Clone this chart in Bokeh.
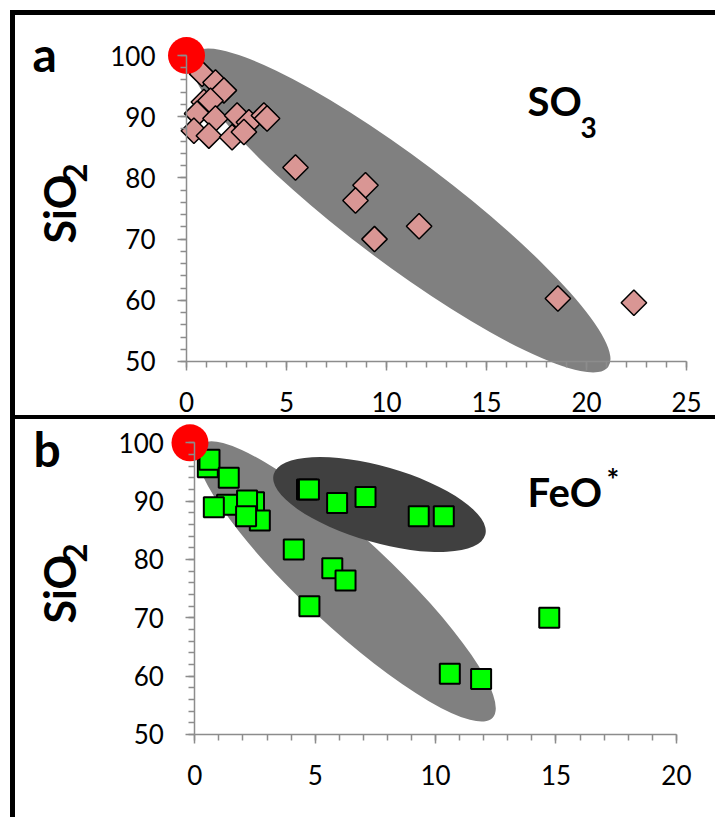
import math
from bokeh.plotting import figure
from bokeh.models import Label, SingleIntervalTicker, Spacer
from bokeh.layouts import column
from bokeh.embed import file_html
from bokeh.resources import INLINE

# ---------------- data ----------------
# Panel a: SO3 vs SiO2 (diamonds)
so3_x = [0.78, 1.45, 1.87, 0.87, 1.2, 0.53, 1.45, 0.37, 1.12, 2.28, 2.53, 3.12, 2.87,
         3.87, 4.03, 5.45, 8.95, 8.45, 9.4, 11.63, 18.57, 22.37]
so3_y = [97.0, 95.6, 94.3, 92.4, 92.6, 90.5, 89.7, 87.7, 86.9, 86.65, 90.2, 89.1, 87.5,
         90.2, 89.7, 81.7, 78.8, 76.3, 70.0, 72.1, 60.3, 59.6]
# Panel b: FeO* vs SiO2 (squares)
feo_x = [0.54, 0.61, 1.41, 1.34, 0.79, 2.46, 2.17, 2.70, 2.13, 4.11, 4.66, 4.74, 5.91,
         7.09, 9.30, 10.34, 5.71, 6.26, 4.76, 10.59, 11.89, 14.72]
feo_y = [95.8, 97.1, 94.0, 89.4, 88.96, 89.8, 90.1, 86.7, 87.4, 81.7, 92.0, 92.0, 89.7,
         90.7, 87.4, 87.4, 78.5, 76.4, 72.0, 60.4, 59.5, 70.0]
# pure silica end member
end_a_x, end_a_y = [0.0], [100.0]
end_b_x, end_b_y = [-0.2], [100.0]

# shaded fields: centre x, centre y, width, height (data units), angle (deg)
field_a = [10.7, 74.67, 26.0, 17.0, -37.0]
field_b_light = [6.30, 76.23, 16.6, 15.26, -43.0]
field_b_dark = [7.67, 89.42, 9.14, 13.03, -16.0]

x_bounds_a = (0, 25)
x_bounds_b = (0, 20)
y_bounds = (50, 100)

AXIS_GRAY = "#8C8C8C"
FONT = "Lato"


def style(p, xb, yb):
    p.xgrid.visible = False
    p.ygrid.visible = False
    p.outline_line_color = None
    p.background_fill_color = "white"
    p.border_fill_color = "white"
    p.xaxis.ticker = SingleIntervalTicker(interval=5, num_minor_ticks=5)
    p.yaxis.ticker = SingleIntervalTicker(interval=10, num_minor_ticks=5)
    p.xaxis.bounds = xb
    p.yaxis.bounds = yb
    p.xaxis.fixed_location = yb[0]
    p.yaxis.fixed_location = xb[0]
    for ax in (p.xaxis[0], p.yaxis[0]):
        ax.axis_line_color = AXIS_GRAY
        ax.axis_line_width = 1.5
        ax.major_tick_line_color = AXIS_GRAY
        ax.major_tick_line_width = 1.5
        ax.minor_tick_line_color = AXIS_GRAY
        ax.minor_tick_line_width = 1.5
        ax.major_tick_out = 9
        ax.major_tick_in = 0
        ax.minor_tick_out = 6
        ax.minor_tick_in = 0
        ax.major_label_text_font = FONT
        ax.major_label_text_font_size = "26px"
        ax.major_label_text_color = "black"
    p.yaxis.major_label_standoff = 22
    p.xaxis.major_label_standoff = 22


def lab(p, text, x, y, size, angle=0.0, baseline="alphabetic", bold=True):
    p.add_layout(Label(x=x, y=y, text=text, text_font=FONT, text_font_size=size,
                       text_font_style="bold" if bold else "normal",
                       text_color="black", text_align="left", text_baseline=baseline,
                       angle=angle))


# ---------------- panel a ----------------
pa = figure(width=700, height=410, x_range=(-8.55, 26.45), y_range=(39.542, 106.536),
            output_backend="svg", toolbar_location=None, min_border=0)
style(pa, x_bounds_a, y_bounds)
pa.ellipse(x=[field_a[0]], y=[field_a[1]], width=[field_a[2]], height=[field_a[3]],
           angle=[math.radians(field_a[4])], fill_color="#808080", line_color=None)
pa.scatter(so3_x, so3_y, marker="square", size=18, angle=math.pi / 4,
           fill_color="#D99694", line_color="black", line_width=1.5)
pa.scatter(end_a_x, end_a_y, size=37, fill_color="#FF0000", line_color=None)
lab(pa, "a", -7.7, 100.4, "48px")
lab(pa, "SiO", -6.35, 69.3, "43px", angle=math.pi / 2)
lab(pa, "2", -5.6, 79.25, "33px", angle=math.pi / 2)
lab(pa, "SO", 17.05, 92.5, "40px")
lab(pa, "3", 19.7, 88.3, "28px")

# ---------------- panel b ----------------
pb = figure(width=700, height=398, x_range=(-7.446, 21.624), y_range=(35.773, 103.994),
            output_backend="svg", toolbar_location=None, min_border=0)
style(pb, x_bounds_b, y_bounds)
pb.ellipse(x=[field_b_light[0]], y=[field_b_light[1]], width=[field_b_light[2]],
           height=[field_b_light[3]], angle=[math.radians(field_b_light[4])],
           fill_color="#808080", line_color=None)
pb.ellipse(x=[field_b_dark[0]], y=[field_b_dark[1]], width=[field_b_dark[2]],
           height=[field_b_dark[3]], angle=[math.radians(field_b_dark[4])],
           fill_color="#404040", line_color=None)
pb.scatter(feo_x, feo_y, marker="square", size=20,
           fill_color="#00FF00", line_color="black", line_width=2)
pb.scatter(end_b_x, end_b_y, size=37, fill_color="#FF0000", line_color=None)
lab(pb, "b", -6.70, 98.95, "48px")
lab(pb, "SiO", -5.62, 69.03, "43px", angle=math.pi / 2)
lab(pb, "2", -4.98, 79.48, "33px", angle=math.pi / 2)
lab(pb, "FeO", 13.82, 91.6, "40px")
lab(pb, "*", 17.1, 93.8, "30px")

divider = Spacer(width=700, height=4, margin=(-10, 0, 0, 0),
                 styles={"background-color": "black"})
layout = column(pa, divider, pb, margin=(10, 0, 0, 10),
                styles={"border-left": "5px solid black", "border-top": "5px solid black"})

open("out.html", "w").write(file_html(layout, INLINE))
